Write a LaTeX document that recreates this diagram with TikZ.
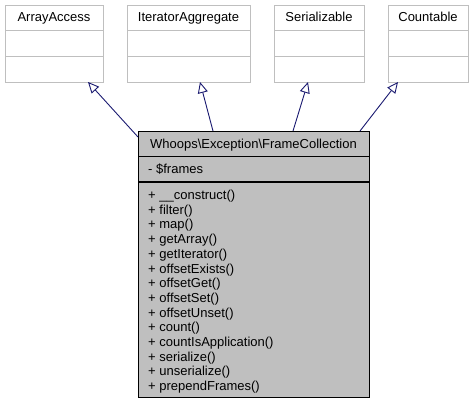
\documentclass[tikz,border=0pt]{standalone}
\usepackage{fontspec}
\setmainfont{Liberation Sans}
\usetikzlibrary{arrows.meta,calc}
\definecolor{edgeblue}{HTML}{191970}
\definecolor{boxgray}{HTML}{BFBFBF}
\begin{document}
\begin{tikzpicture}[x=1pt,y=-1pt,
  font=\fontsize{13}{14.6}\selectfont,
  iface/.style={draw=boxgray, fill=white, line width=1pt, inner sep=0pt, anchor=north west},
  cls/.style={draw=black, fill=boxgray, line width=1pt, inner sep=0pt, anchor=north west},
  txt/.style={inner sep=0pt, anchor=base},
  ltxt/.style={inner sep=0pt, anchor=base west},
  inh/.style={draw=edgeblue, line width=0.9pt, -{Triangle[open, length=11pt, width=10pt, fill=white]}}]
\useasboundingbox (0,0) rectangle (475,404);

% interface boxes
\node[iface, minimum width=98pt, minimum height=77pt] (aa) at (5,5) {};
\node[iface, minimum width=123pt, minimum height=77pt] (ia) at (127,5) {};
\node[iface, minimum width=90pt, minimum height=77pt] (se) at (274,5) {};
\node[iface, minimum width=80pt, minimum height=77pt] (co) at (388,5) {};
\foreach \n in {aa,ia,se,co}{
  \draw[boxgray, line width=1pt] ($(\n.north west)+(0,26)$) -- ($(\n.north east)+(0,26)$);
  \draw[boxgray, line width=1pt] ($(\n.north west)+(0,52)$) -- ($(\n.north east)+(0,52)$);
}
\node[txt] (aat) at (54,22) {ArrayAccess};
\node[txt] (iat) at (188.5,22) {IteratorAggregate};
\node[txt] (set) at (319,22) {Serializable};
\node[txt] (cot) at (428,22) {Countable};

% main class box
\node[cls, minimum width=231pt, minimum height=266pt] (main) at (138,131) {};
\draw[black, line width=1pt] ($(main.north west)+(0,26)$) -- ($(main.north east)+(0,26)$);
\draw[black, line width=1.6pt] ($(main.north west)+(0,51)$) -- ($(main.north east)+(0,51)$);
\node[txt] (title) at (253.5,148.5) {Whoops\textbackslash Exception\textbackslash FrameCollection};
\node[ltxt] (attr) at (148,173.5) {- \$frames};

\foreach \t [count=\i from 0] in {\_\_construct(),filter(),map(),getArray(),getIterator(),offsetExists(),offsetGet(),offsetSet(),offsetUnset(),count(),countIsApplication(),serialize(),unserialize(),prependFrames()}{
  \node[ltxt] (m\i) at (148,{199.5+\i*14.7}) {+ \t};
}

% inheritance connectors
\coordinate (s1) at (138,137);
\coordinate (s2) at (213,131);
\coordinate (s3) at (293,131);
\coordinate (s4) at (360,131);
\coordinate (t1) at (88,82);
\coordinate (t2) at (200,82);
\coordinate (t3) at (308,82);
\coordinate (t4) at (398,82);
\draw[inh] (s1) -- (t1);
\draw[inh] (s2) -- (t2);
\draw[inh] (s3) -- (t3);
\draw[inh] (s4) -- (t4);
\end{tikzpicture}
\end{document}
